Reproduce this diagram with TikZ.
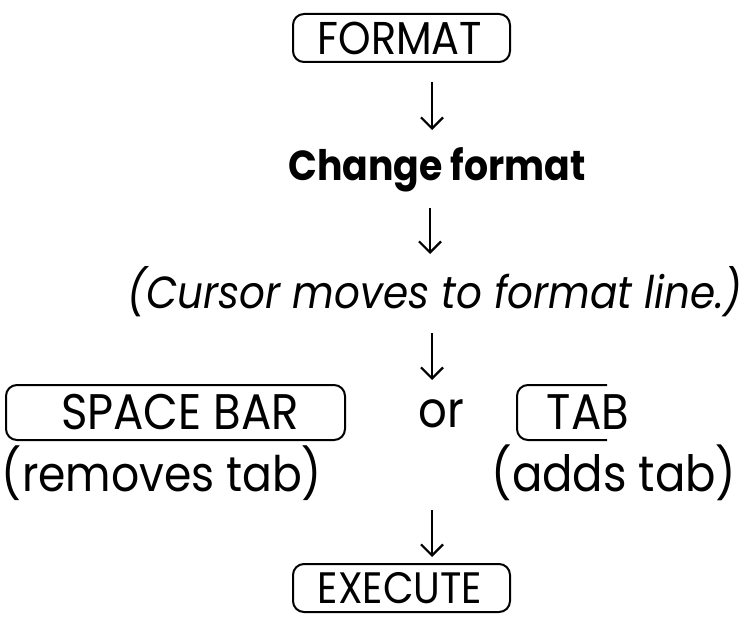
\documentclass[tikz,border=0pt]{standalone}
\usepackage{fontspec}
\setmainfont{Poppins}[FakeStretch=0.9]
\usetikzlibrary{arrows.meta}
\newcommand{\fsz}[1]{\fontsize{#1}{#1}\selectfont}
\tikzset{
  txt/.style={inner sep=0pt, font=\fsz{46}},
  keyframe/.style={line width=2pt, rounded corners=11pt},
  down/.style={line width=2.2pt, -{Straight Barb[length=11pt,width=22pt,line width=2.2pt]}},
}
\begin{document}
\begin{tikzpicture}[x=1pt,y=-1pt]
\useasboundingbox (0,0) rectangle (748,618);
% FORMAT key
\node[txt] (format) at (400,38) {FORMAT};
\draw[keyframe] (293,14) rectangle (510,62);
\coordinate (a1s) at (432,82); \coordinate (a1e) at (432,130);
\draw[down] (a1s) -- (a1e);
\node[txt, font=\fsz{42}\bfseries] (change) at (437,170) {Change format};
\coordinate (a2s) at (430,208); \coordinate (a2e) at (430,254);
\draw[down] (a2s) -- (a2e);
\node[txt, font=\fsz{45}\itshape] (cursor) at (435,292) {(Cursor moves to format line.)};
\coordinate (a3s) at (432,333); \coordinate (a3e) at (432,380);
\draw[down] (a3s) -- (a3e);
% SPACE BAR key
\node[txt, font=\fsz{50}] (space) at (180,412) {SPACE BAR};
\draw[keyframe] (6,385) rectangle (345,440);
\node[txt, font=\fsz{50}] (or) at (441,414) {or};
% TAB key
\node[txt, font=\fsz{50}] (tab) at (588,412) {TAB};
\draw[keyframe] (607,385) -- (517,385) -- (517,440) -- (607,440);
\node[txt, font=\fsz{49}] (removes) at (162,473) {(removes tab)};
\node[txt, font=\fsz{50}] (adds) at (614,473) {(adds tab)};
\coordinate (a4s) at (432,510); \coordinate (a4e) at (432,557);
\draw[down] (a4s) -- (a4e);
% EXECUTE key
\node[txt, font=\fsz{44}] (execute) at (400,588) {EXECUTE};
\draw[keyframe] (293,564) rectangle (510,612);
\end{tikzpicture}
\end{document}
